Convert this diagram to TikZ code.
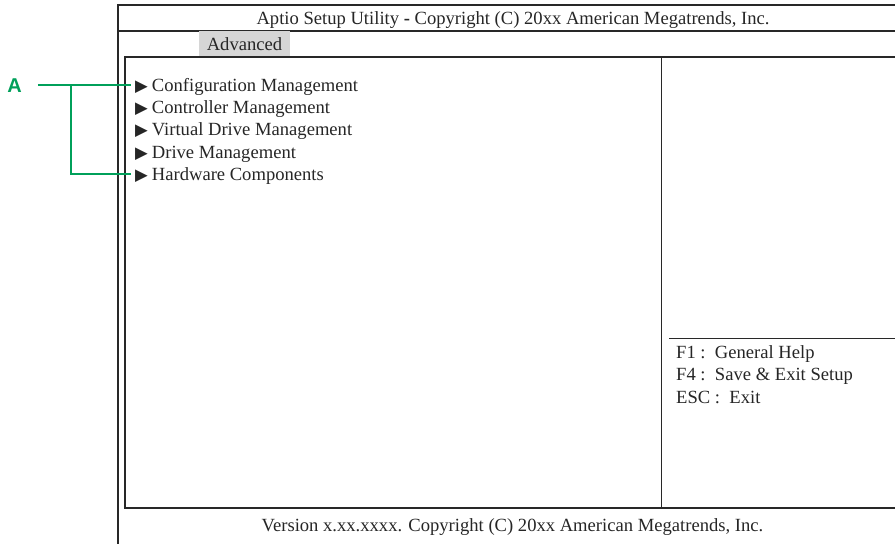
\documentclass[tikz,border=0pt]{standalone}
\usepackage{fontspec}
\setmainfont{Liberation Serif}
\newfontfamily\symfont{DejaVu Sans}
\newfontfamily\labfont{Liberation Sans}
\definecolor{callgreen}{RGB}{0,160,90}
\definecolor{tabgray}{RGB}{214,214,214}
\definecolor{framegray}{RGB}{40,40,40}
\newcommand{\tri}{\hspace*{4pt}{\symfont\fontsize{16.5}{16.5}\selectfont ▶}\hspace{4pt}}
\begin{document}
\begin{tikzpicture}[x=1pt,y=-1pt,
  frame/.style={draw=framegray,line width=1.2pt},
  thin/.style={draw=framegray,line width=0.9pt},
  txt/.style={font=\fontsize{18.6}{18.6}\selectfont,inner sep=0pt,text=black!85,anchor=base},
  item/.style={txt,anchor=base west},
  callout/.style={draw=callgreen,line width=1.5pt}]
\useasboundingbox (0,0) rectangle (895,544);
% outer frame
\draw[frame] (895,5) -- (118,5) -- (118,544);
\draw[frame] (118,31) -- (895,31);
\fill[tabgray] (199,31) rectangle (290,57);
\node[txt] (tab) at (244.5,50.5) {Advanced};
\node[txt] (title) at (513,24.2) {Aptio Setup Utility \textbf{-} Copyright (C) 20xx American Megatrends, Inc.};
% inner box
\draw[frame] (895,57) -- (125,57) -- (125,508) -- (895,508);
\draw[thin] (661,57) -- (661,508);
\draw[thin] (669,338) -- (895,338);
% menu items
\node[item] (i1) at (131,91.2) {\tri Configuration Management};
\node[item] (i2) at (131,113.5) {\tri Controller Management};
\node[item] (i3) at (131,135.8) {\tri Virtual Drive Management};
\node[item] (i4) at (131,158.1) {\tri Drive Management};
\node[item] (i5) at (131,180.4) {\tri Hardware Components};
% help
\node[item] (h1) at (676,358.2) {F1 :\ \ General Help};
\node[item] (h2) at (676,380.7) {F4 :\ \ Save \& Exit Setup};
\node[item] (h3) at (676,403.2) {ESC :\ \ Exit};
% footer
\node[txt] (foot) at (512.5,531.2) {Version x.xx.xxxx. Copyright (C) 20xx American Megatrends, Inc.};
% callout
\node[font=\labfont\bfseries\fontsize{20}{20}\selectfont,text=callgreen,inner sep=0pt] (A) at (14.5,86) {A};
\coordinate (s) at ([xshift=16pt,yshift=1pt]A.east);
\coordinate (e1) at ([yshift=6.2pt]i1.base west);
\coordinate (e5) at ([yshift=6.2pt]i5.base west);
\coordinate (j) at (71,85);
\draw[callout] (s) -- (j) -- (e1);
\draw[callout] (j) |- (e5);
\end{tikzpicture}
\end{document}
